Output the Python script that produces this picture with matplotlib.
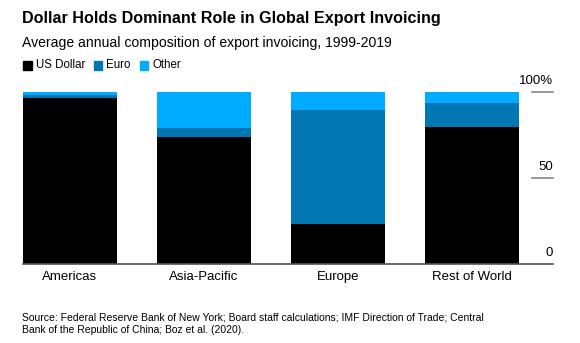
import matplotlib.pyplot as plt
import numpy as np

plt.rcParams['font.family'] = ['Liberation Sans', 'DejaVu Sans']

# data (percent of export invoicing)
regions = ['Americas', 'Asia-Pacific', 'Europe', 'Rest of World']
us_dollar = [96.7, 73.8, 23.3, 79.7]
euro = [1.6, 5.2, 66.3, 14.0]
other = [1.7, 21.0, 10.4, 6.3]
series_names = ['US Dollar', 'Euro', 'Other']
colors = ['#000000', '#0077b3', '#00acff']
yticks = [0, 50, 100]
ytick_labels = ['0', '50', '100%']

W, H = 580, 343
fig = plt.figure(figsize=(W / 100, H / 100), dpi=100)
ax = fig.add_axes([23 / W, (H - 264) / H, 530 / W, 172 / H])

x = np.arange(len(regions))
width = 0.7
bottom = np.zeros(len(regions))
for vals, c in zip([us_dollar, euro, other], colors):
    ax.bar(x, vals, width, bottom=bottom, color=c, linewidth=0)
    bottom += np.array(vals)

ax.set_xlim(-0.35, 3.604)
ax.set_ylim(0, 100)
for s in ['top', 'left', 'right']:
    ax.spines[s].set_visible(False)
ax.spines['bottom'].set_color('#555555')
ax.spines['bottom'].set_linewidth(1.2)
ax.set_yticks([])
ax.set_xticks(x)
ax.set_xticklabels(regions, fontsize=9.5)
ax.tick_params(axis='x', length=0, pad=5)

# right-side value labels sitting on short tick lines
trans = ax.get_yaxis_transform()
for v, lab in zip(yticks, ytick_labels):
    if v > 0:
        ax.plot([0.96, 1.0], [v, v], color='#888888', lw=1.2, transform=trans, clip_on=False)
    ax.text(1.0, v + 2.8, lab, transform=trans, ha='right', va='bottom', fontsize=9.5, clip_on=False)

fig.text(22 / W, 1 - 18 / H, 'Dollar Holds Dominant Role in Global Export Invoicing',
         fontsize=11.6, fontweight='bold', va='center', ha='left')
fig.text(22 / W, 1 - 43 / H, 'Average annual composition of export invoicing, 1999-2019',
         fontsize=10.1, va='center', ha='left')

# legend as squares + text
lx = 23
for name, c in zip(series_names, colors):
    fig.patches.append(plt.Rectangle((lx / W, 1 - 70 / H), 8.5 / W, 9 / H, color=c,
                                     transform=fig.transFigure, figure=fig))
    t = fig.text((lx + 12.5) / W, 1 - 65.5 / H, name, fontsize=8.3, va='center', ha='left')
    fig.canvas.draw()
    bb = t.get_window_extent()
    lx = bb.x1 + 9

fig.text(22 / W, 1 - 324 / H,
         'Source: Federal Reserve Bank of New York; Board staff calculations; IMF Direction of Trade; Central\n'
         'Bank of the Republic of China; Boz et al. (2020).',
         fontsize=7.5, va='center', ha='left', linespacing=1.35)

fig.savefig('out.png', dpi=100)
